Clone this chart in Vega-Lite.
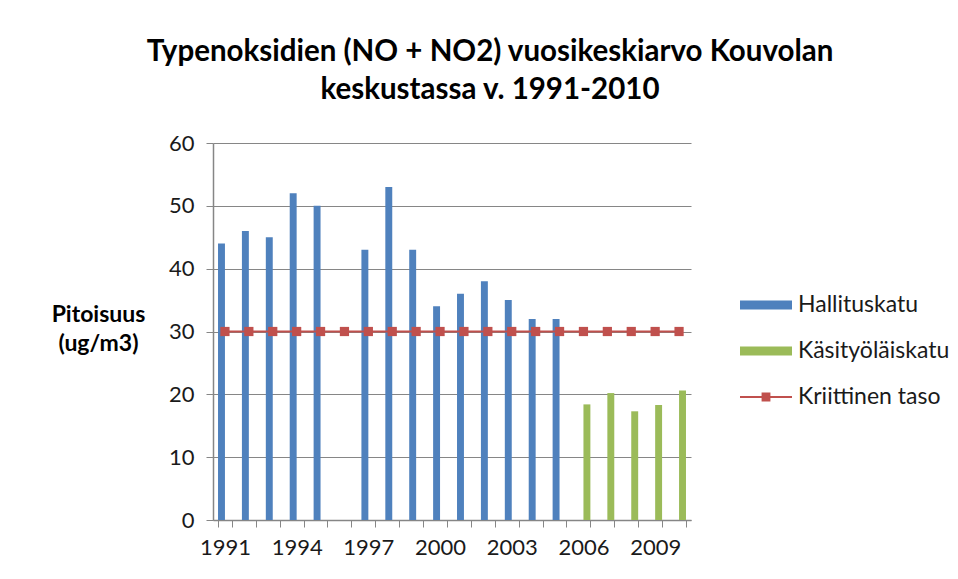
{
  "$schema": "https://vega.github.io/schema/vega-lite/v6.json",
  "autosize": {"type": "none"},
  "width": 478,
  "height": 377,
  "padding": {"left": 213, "top": 143, "right": 267, "bottom": 59},
  "background": "white",
  "config": {
    "font": "Lato",
    "view": {"stroke": null}
  },
  "title": {
    "text": ["Typenoksidien (NO + NO2) vuosikeskiarvo Kouvolan", "keskustassa v. 1991-2010"],
    "font": "Lato",
    "fontSize": 29.5,
    "fontWeight": "bold",
    "color": "#000000",
    "lineHeight": 38,
    "anchor": "middle",
    "dx": 38,
    "offset": 27
  },
  "data": {
    "values": [
      {"year": "1991", "series": "Hallituskatu", "value": 44},
      {"year": "1992", "series": "Hallituskatu", "value": 46},
      {"year": "1993", "series": "Hallituskatu", "value": 45},
      {"year": "1994", "series": "Hallituskatu", "value": 52},
      {"year": "1995", "series": "Hallituskatu", "value": 50},
      {"year": "1997", "series": "Hallituskatu", "value": 43},
      {"year": "1998", "series": "Hallituskatu", "value": 53},
      {"year": "1999", "series": "Hallituskatu", "value": 43},
      {"year": "2000", "series": "Hallituskatu", "value": 34},
      {"year": "2001", "series": "Hallituskatu", "value": 36},
      {"year": "2002", "series": "Hallituskatu", "value": 38},
      {"year": "2003", "series": "Hallituskatu", "value": 35},
      {"year": "2004", "series": "Hallituskatu", "value": 32},
      {"year": "2005", "series": "Hallituskatu", "value": 32},
      {"year": "2006", "series": "Käsityöläiskatu", "value": 18.4},
      {"year": "2007", "series": "Käsityöläiskatu", "value": 20.2},
      {"year": "2008", "series": "Käsityöläiskatu", "value": 17.3},
      {"year": "2009", "series": "Käsityöläiskatu", "value": 18.3},
      {"year": "2010", "series": "Käsityöläiskatu", "value": 20.6},
      {"year": "1991", "series": "Kriittinen taso", "value": 30},
      {"year": "1992", "series": "Kriittinen taso", "value": 30},
      {"year": "1993", "series": "Kriittinen taso", "value": 30},
      {"year": "1994", "series": "Kriittinen taso", "value": 30},
      {"year": "1995", "series": "Kriittinen taso", "value": 30},
      {"year": "1996", "series": "Kriittinen taso", "value": 30},
      {"year": "1997", "series": "Kriittinen taso", "value": 30},
      {"year": "1998", "series": "Kriittinen taso", "value": 30},
      {"year": "1999", "series": "Kriittinen taso", "value": 30},
      {"year": "2000", "series": "Kriittinen taso", "value": 30},
      {"year": "2001", "series": "Kriittinen taso", "value": 30},
      {"year": "2002", "series": "Kriittinen taso", "value": 30},
      {"year": "2003", "series": "Kriittinen taso", "value": 30},
      {"year": "2004", "series": "Kriittinen taso", "value": 30},
      {"year": "2005", "series": "Kriittinen taso", "value": 30},
      {"year": "2006", "series": "Kriittinen taso", "value": 30},
      {"year": "2007", "series": "Kriittinen taso", "value": 30},
      {"year": "2008", "series": "Kriittinen taso", "value": 30},
      {"year": "2009", "series": "Kriittinen taso", "value": 30},
      {"year": "2010", "series": "Kriittinen taso", "value": 30}
    ]
  },
  "encoding": {
    "x": {
      "field": "year",
      "type": "ordinal",
      "scale": {
        "domain": ["1991","1992","1993","1994","1995","1996","1997","1998","1999","2000","2001","2002","2003","2004","2005","2006","2007","2008","2009","2010"],
        "paddingInner": 0.42,
        "paddingOuter": 0.21
      },
      "axis": {
        "title": null,
        "labelExpr": "indexof(['1991','1994','1997','2000','2003','2006','2009'], datum.value) >= 0 ? datum.label : ''",
        "labelAngle": 0,
        "labelFont": "Lato",
        "labelFontSize": 22,
        "labelColor": "#1a1a1a",
        "labelPadding": 10,
        "labelOverlap": false,
        "tickBand": "extent",
        "tickSize": 7,
        "tickColor": "#868686",
        "domainColor": "#868686",
        "domainWidth": 1.5,
        "grid": false
      }
    },
    "y": {
      "field": "value",
      "type": "quantitative",
      "scale": {"domain": [0, 60]},
      "axis": {
        "values": [0, 10, 20, 30, 40, 50, 60],
        "title": ["Pitoisuus", "(ug/m3)"],
        "titleAngle": 0,
        "titleAlign": "center",
        "titleBaseline": "top",
        "titleX": -115,
        "titleY": 160,
        "titleFont": "Lato",
        "titleFontSize": 23,
        "titleFontWeight": "bold",
        "titleColor": "#000000",
        "titleLineHeight": 29,
        "labelFont": "Lato",
        "labelFontSize": 22,
        "labelColor": "#1a1a1a",
        "labelPadding": 12,
        "tickSize": 7,
        "tickColor": "#868686",
        "domainColor": "#868686",
        "domainWidth": 1.5,
        "grid": true,
        "gridColor": "#868686",
        "gridWidth": 1
      }
    },
    "color": {
      "field": "series",
      "type": "nominal",
      "scale": {
        "domain": ["Hallituskatu", "Käsityöläiskatu", "Kriittinen taso"],
        "range": ["#4F81BD", "#9BBB59", "#C0504D"]
      },
      "legend": {
        "title": null,
        "orient": "none",
        "legendX": 527,
        "legendY": 136,
        "labelFont": "Lato",
        "labelFontSize": 23,
        "labelColor": "#1a1a1a",
        "labelOffset": 6,
        "symbolSize": 2704,
        "rowPadding": 8,
        "symbolStrokeWidth": 0,
        "encode": {
          "symbols": {
            "update": {
              "shape": {"signal": "datum.value === 'Kriittinen taso' ? 'M-1,-0.04H1V0.04H-1Z M-0.17,-0.17H0.17V0.17H-0.17Z' : 'M-1,-0.17H1V0.17H-1Z'"},
              "fill": {"scale": "color", "field": "value"},
              "fillOpacity": {"value": 1},
              "opacity": {"value": 1},
              "strokeWidth": {"value": 0}
            }
          }
        }
      }
    }
  },
  "layer": [
    {
      "transform": [{"filter": "datum.series !== 'Kriittinen taso'"}],
      "mark": {"type": "bar", "opacity": 1},
      "encoding": {
        "xOffset": {
          "field": "series",
          "type": "nominal",
          "scale": {"domain": ["Hallituskatu", "Käsityöläiskatu"], "paddingInner": 0, "paddingOuter": 0}
        }
      }
    },
    {
      "transform": [{"filter": "datum.series === 'Kriittinen taso'"}],
      "mark": {
        "type": "line",
        "strokeWidth": 2,
        "point": {"shape": "square", "size": 85, "filled": true, "opacity": 1}
      },
      "encoding": {}
    }
  ]
}
